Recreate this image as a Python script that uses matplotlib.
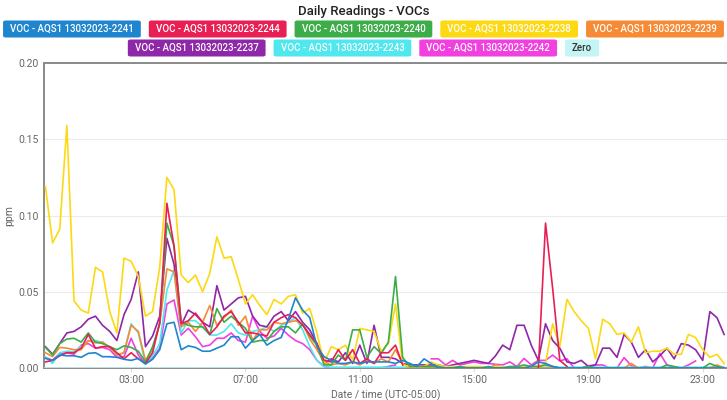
import numpy as np
import matplotlib
matplotlib.use("Agg")
import matplotlib.pyplot as plt
from matplotlib.patches import FancyBboxPatch

nan = np.nan

# readings every 15 minutes, index 0 = 00:00
voc_2241 = [0.0063, 0.005, 0.0085, 0.008, 0.008, 0.007, 0.0096, 0.010, 0.0074, 0.0074,
            0.007, 0.0057, 0.005, 0.0063, 0.0026, 0.0057, 0.012, 0.029, 0.030, 0.012,
            0.0145, 0.0135, 0.011, 0.011, 0.013, 0.015, 0.0205, 0.0205, 0.013, 0.018,
            0.022, 0.015, 0.018, 0.020, 0.032, 0.046, 0.038, 0.033, 0.014, 0.0074,
            0.005, 0.003, 0.003, 0.004, 0.003, 0.004, 0.004, 0.004, 0.004, 0.003,
            0.005, 0.003, 0.001, 0.006, 0.003, 0.000, 0.000, 0.000, 0.000, 0.000,
            0.000, 0.000, 0.000, 0.000, 0.000, 0.000, 0.000, 0.000, 0.001, 0.004,
            0.003, 0.001, 0.000, 0.000, 0.000, 0.000, 0.000, 0.000, 0.000, 0.000,
            0.000, 0.000, 0.000, 0.000, 0.000, 0.000, 0.000, 0.000, 0.000, 0.000,
            0.000, 0.000, 0.000, 0.000, 0.000, 0.000]
voc_2244 = [0.004, 0.005, 0.008, 0.010, 0.010, 0.013, 0.022, 0.013, 0.014, 0.014,
            0.010, 0.006, 0.010, 0.006, 0.003, 0.010, 0.030, 0.108, 0.080, 0.029,
            0.031, 0.036, 0.030, 0.022, 0.027, 0.034, 0.037, 0.030, 0.023, 0.023,
            0.022, 0.021, 0.030, 0.033, 0.035, 0.033, 0.028, 0.022, 0.016, 0.005,
            0.004, 0.012, 0.005, 0.012, 0.003, 0.006, 0.003, 0.010, 0.010, 0.015,
            0.002, nan, nan, nan, nan, nan, nan, nan, nan, nan,
            nan, nan, nan, nan, nan, nan, nan, nan, nan, 0.000,
            0.095, 0.052, 0.005, 0.001, nan, nan, nan, nan, nan, nan,
            nan, nan, nan, nan, nan, nan, nan, nan, nan, nan,
            nan, nan, nan, nan, nan, nan]
voc_2240 = [0.0135, 0.0085, 0.016, 0.019, 0.0195, 0.017, 0.023, 0.017, 0.016, 0.014,
            0.012, 0.0145, 0.0135, 0.011, 0.004, 0.014, 0.029, 0.095, 0.080, 0.030,
            0.028, 0.027, 0.027, 0.022, 0.039, 0.030, 0.034, 0.030, 0.026, 0.017,
            0.018, 0.018, 0.024, 0.027, 0.027, 0.023, 0.029, 0.021, 0.015, 0.002,
            0.002, 0.0085, 0.005, 0.025, 0.025, 0.007, 0.014, 0.0095, 0.017, 0.060,
            0.007, 0.001, 0.001, 0.001, 0.001, 0.001, 0.000, 0.000, 0.001, 0.000,
            0.000, 0.000, 0.001, 0.000, 0.000, 0.001, 0.001, 0.002, 0.001, 0.001,
            0.002, 0.001, 0.000, 0.000, 0.000, 0.000, 0.001, 0.000, 0.000, 0.000,
            0.000, 0.000, 0.000, 0.000, 0.000, 0.000, 0.000, 0.002, 0.001, 0.000,
            0.000, 0.000, 0.000, 0.003, 0.001, 0.000]
voc_2238 = [0.119, 0.082, 0.091, 0.159, 0.044, 0.038, 0.036, 0.066, 0.063, 0.037,
            0.023, 0.072, 0.070, 0.060, 0.034, 0.037, 0.066, 0.125, 0.117, 0.061,
            0.056, 0.061, 0.050, 0.062, 0.086, 0.072, 0.073, 0.058, 0.042, 0.048,
            0.041, 0.035, 0.045, 0.042, 0.047, 0.048, 0.036, 0.039, 0.023, 0.003,
            0.014, 0.012, 0.015, 0.005, 0.026, 0.025, 0.024, 0.011, 0.016, 0.042,
            0.002, 0.001, 0.001, 0.001, 0.004, 0.002, 0.001, 0.001, 0.001, 0.001,
            0.001, 0.001, 0.000, 0.001, 0.001, 0.000, 0.001, 0.001, 0.001, 0.001,
            0.003, 0.029, 0.014, 0.045, 0.037, 0.031, 0.026, 0.006, 0.032, 0.029,
            0.022, 0.023, 0.017, 0.027, 0.010, 0.011, 0.011, 0.013, 0.009, 0.009,
            0.022, 0.020, 0.012, 0.007, 0.009, 0.003]
voc_2239 = [0.010, 0.0075, 0.0135, 0.013, 0.012, 0.012, 0.018, 0.0165, 0.017, 0.0135,
            0.0085, 0.010, 0.028, 0.024, 0.005, 0.012, 0.029, 0.065, 0.063, 0.027,
            0.030, 0.024, 0.030, 0.041, 0.028, 0.033, 0.038, 0.028, 0.034, 0.018,
            0.025, 0.025, 0.030, 0.029, 0.030, 0.031, 0.029, 0.019, 0.012, 0.004,
            0.002, 0.003, 0.002, 0.004, 0.002, 0.005, 0.003, 0.006, 0.004, 0.012,
            0.003, 0.000, 0.000, 0.000, 0.000, 0.000, 0.000, 0.000, 0.000, 0.000,
            0.000, 0.000, 0.000, 0.002, 0.000, 0.000, 0.000, 0.000, 0.000, 0.000,
            0.000, 0.000, 0.000, 0.000, 0.000, 0.000, 0.000, 0.000, 0.000, 0.000,
            0.000, 0.000, 0.003, 0.000, 0.000, 0.000, 0.000, 0.000, 0.000, 0.000,
            0.000, 0.000, 0.000, 0.000, 0.002, 0.000]
voc_2237 = [0.014, 0.009, 0.016, 0.023, 0.024, 0.027, 0.032, 0.034, 0.028, 0.024,
            0.018, 0.035, 0.045, 0.063, 0.014, 0.021, 0.034, 0.085, 0.068, 0.028,
            0.038, 0.035, 0.030, 0.027, 0.054, 0.038, 0.042, 0.046, 0.047, 0.034,
            0.028, 0.027, 0.034, 0.037, 0.031, 0.037, 0.030, 0.025, 0.016, 0.003,
            0.006, 0.004, 0.010, 0.003, 0.015, 0.003, 0.028, 0.007, 0.007, 0.006,
            0.003, 0.002, 0.002, 0.002, 0.002, 0.002, 0.001, 0.002, 0.003, 0.004,
            0.005, 0.004, 0.003, 0.008, 0.015, 0.012, 0.028, 0.028, 0.015, 0.005,
            0.029, 0.018, 0.013, 0.004, 0.003, 0.005, 0.001, 0.002, 0.013, 0.013,
            0.007, 0.022, 0.017, 0.007, 0.012, 0.004, 0.008, 0.013, 0.006, 0.016,
            0.015, 0.012, 0.005, 0.037, 0.033, 0.022]
voc_2243 = [0.0074, 0.003, 0.010, 0.011, 0.0107, 0.0144, 0.018, 0.018, 0.0166, 0.0135,
            0.0085, 0.010, 0.029, 0.023, 0.0026, 0.008, 0.016, 0.051, 0.064, 0.023,
            0.031, 0.031, 0.027, 0.0216, 0.0216, 0.024, 0.029, 0.023, 0.0216, 0.024,
            0.025, 0.027, 0.024, 0.028, 0.030, 0.033, 0.025, 0.014, 0.005, 0.001,
            0.0005, 0.0005, 0.0005, 0.0005, 0.0005, 0.0005, 0.0005, 0.0005, 0.0005, 0.0005,
            0.0005, 0.0005, 0.0005, 0.0005, 0.0005, 0.0005, 0.0005, 0.0005, 0.0005, 0.0005,
            0.0005, 0.0005, 0.0005, 0.0005, 0.0005, 0.0005, 0.0005, 0.0005, 0.0005, 0.0005,
            0.0005, 0.0005, 0.0005, 0.0005, 0.0005, 0.0005, 0.0005, 0.0005, 0.0005, 0.0005,
            0.0005, 0.0005, 0.0005, 0.0005, 0.0005, 0.0005, 0.0005, 0.0005, 0.0005, 0.0005,
            0.0005, 0.0005, 0.0005, 0.0005, 0.0005, 0.0005]
voc_2242 = [0.007, 0.005, 0.0096, 0.010, 0.009, 0.015, 0.016, 0.013, 0.0135, 0.012,
            0.007, 0.0074, 0.0195, 0.0085, 0.003, 0.0063, 0.013, 0.042, 0.0446, 0.0216,
            0.026, 0.0205, 0.014, 0.015, 0.0195, 0.0195, 0.023, 0.018, 0.017, 0.034,
            0.024, 0.0195, 0.021, 0.026, 0.0216, 0.018, 0.016, 0.012, 0.005, 0.001,
            0.000, 0.000, 0.000, 0.000, 0.000, 0.000, 0.000, 0.000, 0.001, 0.002,
            nan, nan, nan, nan, 0.006, 0.006, 0.002, 0.005, 0.002, 0.003,
            0.004, 0.003, 0.003, 0.0024, 0.002, 0.004, 0.001, 0.0063, 0.002, 0.005,
            0.005, 0.0085, 0.0046, 0.006, 0.000, 0.000, 0.0015, 0.002, 0.002, 0.000,
            0.000, 0.0068, 0.0015, 0.000, 0.001, 0.000, 0.0096, 0.002, 0.000, 0.000,
            0.002, 0.0046, nan, nan, nan, nan]
zero = [0.0] * 96

labels = ["VOC - AQS1 13032023-2241", "VOC - AQS1 13032023-2244", "VOC - AQS1 13032023-2240",
          "VOC - AQS1 13032023-2238", "VOC - AQS1 13032023-2239", "VOC - AQS1 13032023-2237",
          "VOC - AQS1 13032023-2243", "VOC - AQS1 13032023-2242", "Zero"]
series = [voc_2241, voc_2244, voc_2240, voc_2238, voc_2239, voc_2237, voc_2243, voc_2242, zero]
colors = ["#1f85cf", "#e91e52", "#3cad48", "#fcd912", "#f78b35",
          "#8e27a8", "#4ee8ee", "#f23fe0", "#c5f4f4"]

tick_hours = [3, 7, 11, 15, 19, 23]
tick_labels = ["03:00", "07:00", "11:00", "15:00", "19:00", "23:00"]

hours = np.arange(96) * 0.25

plt.rcParams['font.family'] = ['Roboto', 'DejaVu Sans']

W, H = 727, 400
fig = plt.figure(figsize=(W / 100, H / 100), dpi=100)
ax = fig.add_axes([44 / W, 1 - 368 / H, 1 - 44 / W, (368 - 63) / H])

n = len(series)
for k, (vals, c) in enumerate(zip(series, colors)):
    ax.plot(hours, vals, color=c, lw=1.2, zorder=3 + (n - k))

ax.set_xlim(-0.05, 23.85)
ax.set_ylim(0, 0.2)
ax.set_yticks([0, 0.05, 0.10, 0.15, 0.20])
ax.set_yticklabels(["0.00", "0.05", "0.10", "0.15", "0.20"])
ax.set_xticks(tick_hours)
ax.set_xticklabels(tick_labels)
ax.grid(axis='y', color='#ebebeb', lw=0.8)
ax.set_axisbelow(True)
ax.tick_params(axis='y', length=0, labelsize=7.5, labelcolor='#666', pad=4)
ax.tick_params(axis='x', length=3, color='#ddd', labelsize=7.5, labelcolor='#666', pad=2)
for s in ['left', 'bottom', 'top']:
    ax.spines[s].set_color('#8a8a8a')
    ax.spines[s].set_linewidth(1.4)
ax.spines['right'].set_visible(False)
ax.set_ylabel("ppm", fontsize=7.5, color='#666')
ax.set_xlabel("Date / time (UTC-05:00)", fontsize=7.5, color='#666')
ax.yaxis.set_label_coords((14 - 44) / (W - 44), 0.5)
ax.xaxis.set_label_coords(0.5, (368 - 389) / (368 - 63))

fig.text(0.5, 1 - 12 / H, "Daily Readings - VOCs", ha='center', va='center',
         fontsize=9.5, fontweight='medium', color='#222')

# legend boxes laid out in two centred rows
renderer = fig.canvas.get_renderer()
rows = [list(range(5)), list(range(5, 9))]
row_y = [29, 48]
padx, boxh, gap = 7, 17, 8
for row, yc in zip(rows, row_y):
    texts, widths = [], []
    for k in row:
        tc = '#333' if labels[k] == "Zero" else 'white'
        t = fig.text(0, 1 - yc / H, labels[k], ha='center', va='center',
                     fontsize=7, fontweight='medium', color=tc, zorder=5)
        texts.append(t)
        widths.append(t.get_window_extent(renderer).width + 2 * padx)
    total = sum(widths) + gap * (len(row) - 1)
    x = (W - total) / 2
    for t, w, k in zip(texts, widths, row):
        t.set_x((x + w / 2) / W)
        box = FancyBboxPatch((x / W, 1 - (yc + boxh / 2) / H), w / W, boxh / H,
                             boxstyle="round,pad=0,rounding_size=0.004",
                             transform=fig.transFigure, fc=colors[k], ec='none',
                             zorder=4)
        fig.patches.append(box)
        x += w + gap

fig.savefig("out.png", dpi=100)
